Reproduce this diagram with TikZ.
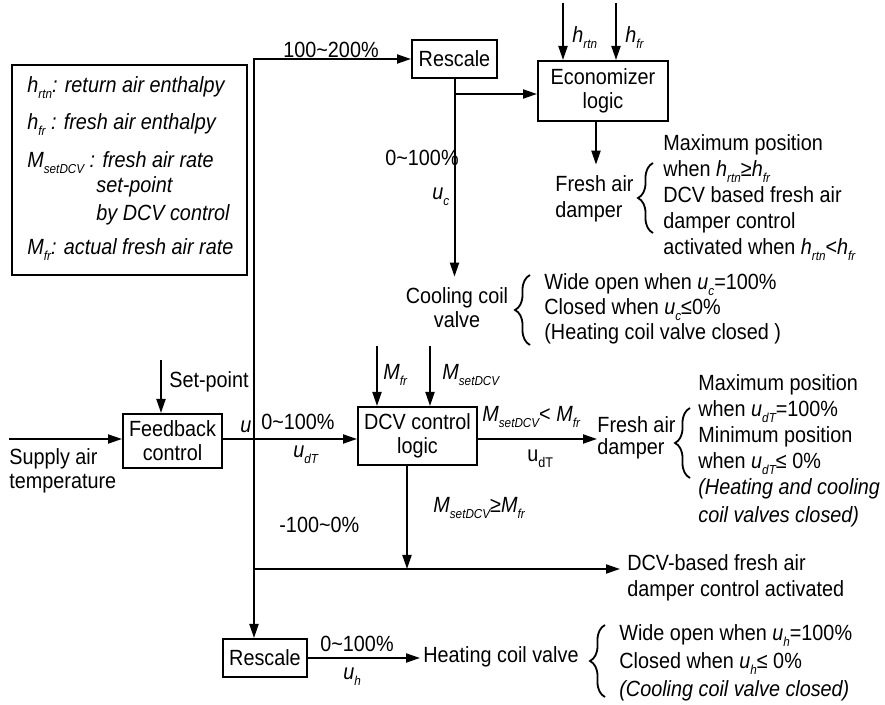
\documentclass[tikz,border=0pt]{standalone}
\usepackage{fontspec}
\setmainfont[FakeStretch=0.9]{Liberation Sans}
\usetikzlibrary{arrows.meta, decorations.pathreplacing}
\newcommand{\lo}[1]{\raisebox{-3pt}{\fontsize{6.5}{7}\selectfont\itshape #1}}
\newcommand{\loup}[1]{\raisebox{-3pt}{\fontsize{7}{7}\selectfont #1}}
\newcommand{\vsub}[2]{\textit{#1}\lo{#2}}
\newcommand{\pct}[2]{#1\textasciitilde #2\%}

\begin{document}
\begin{tikzpicture}[
    x=0.5pt, y=-0.5pt, font=\fontsize{11}{13}\selectfont,
    blk/.style={draw, line width=1pt, align=center, inner sep=0pt,
                font=\fontsize{11}{12}\selectfont},
    txt/.style={inner sep=0pt, align=left, anchor=base west},
    link/.style={-{Triangle[length=7pt,width=4.5pt]}, line width=1pt},
    curly/.style={decorate, decoration={brace, amplitude=7.5pt}, line width=0.9pt},
  ]
    \useasboundingbox (0,0) rectangle (885,705);
    % ---- legend (multi-line nodes sit on their last baseline) ----
    \node[draw, line width=1pt, minimum width=117.5pt, minimum height=105pt,
          inner sep=0pt] (legend) at (129.5,170) {};
    \node[txt] (leg1) at (27,93)  {\itshape h\lo{rtn}: return air enthalpy};
    \node[txt] (leg2) at (27,130) {\itshape h\lo{fr} : fresh air enthalpy};
    \node[txt] (leg3) at (27,168) {\itshape M\lo{setDCV} : fresh air rate};
    \node[txt, font=\fontsize{11}{14}\selectfont\itshape] (leg3b) at (96,221) {set-point\\by DCV control};
    \node[txt] (leg4) at (27,255) {\itshape M\lo{fr}: actual fresh air rate};
    % ---- blocks ----
    \node[blk, minimum width=42.5pt, minimum height=19pt] (rsc) at (454.5,59)  {Rescale};
    \node[blk, minimum width=65pt,   minimum height=30pt] (eco) at (603,91)    {Economizer\\logic};
    \node[blk, minimum width=49.5pt, minimum height=27pt] (fb)  at (172.5,441) {Feedback\\control};
    \node[blk, minimum width=59.5pt, minimum height=29pt] (dcv) at (417.5,436) {DCV control\\logic};
    \node[blk, minimum width=42pt,   minimum height=19pt] (rsh) at (265,658)   {Rescale};
    % ---- outputs ----
    \node[txt, anchor=base, align=center, inner ysep=5.5pt,
          font=\fontsize{11}{12}\selectfont] (ccv) at (457,328) {Cooling coil\\valve};
    \node[txt, inner ysep=5.5pt] (fad) at (555,218) {Fresh air\\damper};
    \node[txt, font=\fontsize{11}{11}\selectfont] (fad2) at (597,455) {Fresh air\\damper};
    \node[txt, inner xsep=3.5pt] (act) at (620,597) {DCV-based fresh air\\damper control activated};
    \node[txt, inner xsep=1.5pt] (hcv) at (420,663) {Heating coil valve};
    \node[txt, font=\fontsize{11}{12}\selectfont] (sat) at (9,489) {Supply air\\temperature};
    % ---- inputs ----
    \coordinate (sain)   at (9,439);
    \coordinate (spin)   at (161,360);
    \coordinate (mfrin)  at (377,346);
    \coordinate (msetin) at (430,346);
    \coordinate (hrtnin) at (563,3);
    \coordinate (hfrin)  at (616,3);
    \coordinate (j)  at (254,439);
    \coordinate (k)  at (254,569);
    \coordinate (br) at (454.5,94);
    % ---- connectors ----
    \draw[link] (sain) -- (fb.west |- sain);
    \draw[link] (spin) -- (spin |- fb.north);
    \draw[link] (fb.east |- j) -- (dcv.west |- j);
    \draw[link] (j) |- (rsc.west);
    \draw[link] (j) -- (j |- rsh.north);
    \draw[link] (rsc.south) -- (rsc.south |- ccv.north);
    \draw[link] (br) -- (eco.west |- br);
    \draw[link] (hrtnin) -- (hrtnin |- eco.north);
    \draw[link] (hfrin) -- (hfrin |- eco.north);
    \draw[link] ([xshift=-3.5pt]eco.south) -- ([xshift=-3.5pt]eco.south |- fad.north);
    \draw[link] (mfrin) -- (mfrin |- dcv.north);
    \draw[link] (msetin) -- (msetin |- dcv.north);
    \draw[link] (dcv.east |- j) -- (fad2.west |- j);
    \draw[link] ([xshift=-5.25pt]dcv.south) -- ([xshift=-5.25pt]dcv.south |- k);
    \draw[link] (k) -- (act.west |- k);
    \draw[link] (rsh.east) -- (hcv.west |- rsh.east);
    % ---- connector labels ----
    \node[txt] (l1) at (283,58)  {\pct{100}{200}};
    \node[txt] (l2) at (385,166) {\pct{0}{100}};
    \node[txt] (l3) at (432,200) {\vsub{u}{c}};
    \node[txt] (l4) at (169,388) {Set-point};
    \node[txt] (l5) at (240,433) {\textit{u}};
    \node[txt] (l6) at (261,430) {\pct{0}{100}};
    \node[txt] (l7) at (293,458) {\vsub{u}{dT}};
    \node[txt] (l8) at (279,533) {-\pct{100}{0}};
    \node[txt] (l9) at (320,652) {\pct{0}{100}};
    \node[txt] (l10) at (343,680) {\vsub{u}{h}};
    \node[txt] (l11) at (572,43) {\vsub{h}{rtn}};
    \node[txt] (l12) at (625,43) {\vsub{h}{fr}};
    \node[txt] (l13) at (383,380) {\vsub{M}{fr}};
    \node[txt] (l14) at (442,380) {\vsub{M}{setDCV}};
    \node[txt] (l15) at (482,422) {\vsub{M}{setDCV}< \vsub{M}{fr}};
    \node[txt] (l16) at (527,462) {u\loup{dT}};
    \node[txt] (l17) at (433,513) {\vsub{M}{setDCV}≥\vsub{M}{fr}};
    % ---- braces and notes ----
    \draw[curly] (653,233) -- (653,163);
    \node[txt] (n1) at (663,255) {Maximum position\\when \vsub{h}{rtn}≥\vsub{h}{fr}\\DCV based fresh air\\damper control\\activated when \vsub{h}{rtn}<\vsub{h}{fr}};
    \draw[curly] (530,345) -- (530,275);
    \node[txt, font=\fontsize{11}{12.5}\selectfont] (n2) at (544,340) {Wide open when \vsub{u}{c}=100\%\\Closed when \vsub{u}{c}≤0\%\\(Heating coil valve closed )};
    \draw[curly] (690,478) -- (690,408);
    \node[txt] (n3) at (698,523) {Maximum position\\when \vsub{u}{dT}=100\%\\Minimum position\\when \vsub{u}{dT}≤ 0\%\\\textit{(Heating and cooling}\\[1pt]\textit{coil valves closed)}};
    \draw[curly] (605,697) -- (605,625);
    \node[txt, font=\fontsize{11}{14}\selectfont] (n4) at (619,697) {Wide open when \vsub{u}{h}=100\%\\Closed when \vsub{u}{h}≤ 0\%\\\textit{(Cooling coil valve closed)}};
  \end{tikzpicture}
\end{document}
